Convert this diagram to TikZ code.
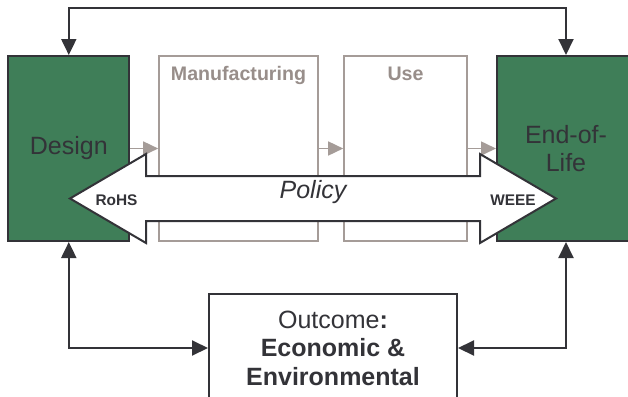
\documentclass[tikz,border=0pt]{standalone}
\usepackage{fontspec}
\setmainfont{Liberation Sans}
\usetikzlibrary{arrows.meta, positioning, calc}

\definecolor{phasegreen}{RGB}{63,126,88}
\definecolor{inkgray}{RGB}{51,51,56}
\definecolor{taupe}{RGB}{165,156,152}
\definecolor{taupetext}{RGB}{152,142,138}

\tikzset{
  stage/.style={rectangle, draw=inkgray, fill=phasegreen, line width=1pt, text=inkgray,
    font=\fontsize{12.5}{14}\selectfont, align=center, minimum height=92.5pt},
  phase/.style={rectangle, draw=taupe, fill=white, line width=0.8pt, minimum height=92.5pt},
  phaselbl/.style={font=\fontsize{9.8}{11}\selectfont\bfseries, text=taupetext, anchor=base},
  outbox/.style={rectangle, draw=inkgray, fill=white, line width=1pt, minimum width=124pt,
    minimum height=54pt, font=\fontsize{12.5}{14.25}\selectfont, text=inkgray, align=center},
  link/.style={{Triangle[length=8pt,width=7.5pt]}-{Triangle[length=8pt,width=7.5pt]},
    line width=1pt, inkgray},
  flow/.style={-{Triangle[length=7.5pt,width=7pt]}, line width=0.8pt, taupe},
  policyshape/.style={draw=inkgray, fill=white, line width=1pt, line join=miter},
  tag/.style={font=\fontsize{7.7}{9}\selectfont\bfseries, text=inkgray}
}

\begin{document}
\begin{tikzpicture}[x=0.5pt, y=-0.5pt]
  \useasboundingbox (0,0) rectangle (628,397);
  \clip (0,0) rectangle (628,397);

  \node[stage, minimum width=60.5pt] (design) at (68.8,148.5) {Design};
  \node[phase, minimum width=79.5pt] (manu) at (238.5,148.5) {};
  \node[phase, minimum width=61.5pt] (use) at (405.5,148.5) {};
  \node[stage, minimum width=69pt] (eol) at (566,148.5) {End-of-\\Life};
  \node[phaselbl] (manulbl) at (238.5,80.5) {Manufacturing};
  \node[phaselbl] (uselbl) at (405.5,80.5) {Use};

  \draw[flow] (design) -- (manu);
  \draw[flow] (manu) -- (use);
  \draw[flow] (use) -- (eol);

  \draw[policyshape] (70,198.5) -- (146,154) -- (146,176) -- (480,176) -- (480,154)
    -- (556,198.5) -- (480,243) -- (480,221) -- (146,221) -- (146,243) -- cycle;
  \node[font=\fontsize{12.5}{14}\selectfont\itshape, text=inkgray] (policy) at (313,192) {Policy};
  \node[tag] (rohs) at (116.5,200.5) {RoHS};
  \node[tag] (weee) at (513,200.5) {WEEE};

  \node[outbox] (outcome) at (333,348)
    {Outcome\textbf{:}\\\textbf{Economic \&}\\\textbf{Environmental}};

  \coordinate (loop) at (0,8.3);
  \draw[link] (design.north) -- (design.north |- loop) -| (eol.north);
  \draw[link] (design.south) |- (outcome.west);
  \draw[link] (eol.south) |- (outcome.east);
\end{tikzpicture}
\end{document}
